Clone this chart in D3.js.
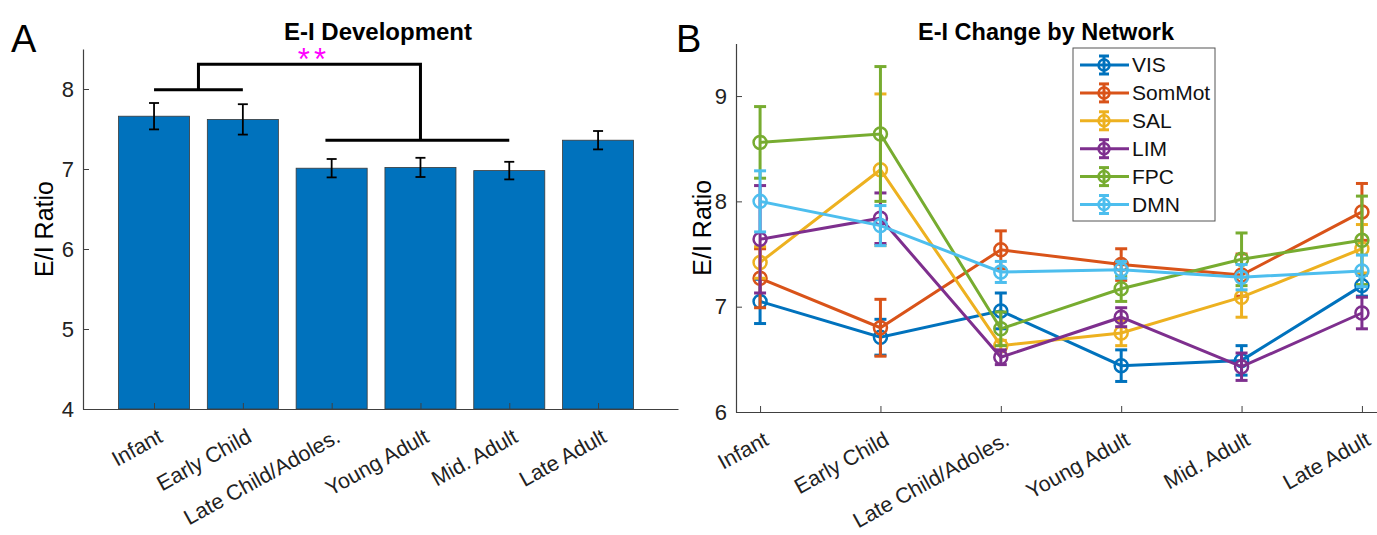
<!DOCTYPE html>
<html>
<head>
<meta charset="utf-8">
<script src="https://cdn.jsdelivr.net/npm/d3@7"></script>
<style>
  body { margin: 0; background: #fff; }
  text { font-family: 'Liberation Sans', Arial, sans-serif; }
</style>
</head>
<body>
<div id="chart"></div>
<script>
const ageGroups = ['Infant', 'Early Child', 'Late Child/Adoles.', 'Young Adult', 'Mid. Adult', 'Late Adult']

// panel A: overall E/I ratio
const overallMean = [7.66, 7.62, 7.01, 7.02, 6.98, 7.36]
const overallErr = [0.165, 0.19, 0.115, 0.12, 0.11, 0.115]
const yTicksA = [4, 5, 6, 7, 8]

// significance bracket: [x1, x2, y]
const bracketLeft = [1, 2, 7.99]
const bracketRight = [2.93, 5, 7.36]
const bracketTop = [1.5, 4, 8.31]
const sigLabel = '**'

// panel B: per network
const networks = ['VIS', 'SomMot', 'SAL', 'LIM', 'FPC', 'DMN']
const networkColors = ['#0072BD', '#D95319', '#EDB120', '#7E2F8E', '#77AC30', '#4DBEEE']
const visMean = [7.05, 6.71, 6.96, 6.44, 6.49, 7.20]
const visErr = [0.21, 0.17, 0.17, 0.15, 0.14, 0.10]
const somMotMean = [7.27, 6.80, 7.54, 7.40, 7.30, 7.90]
const somMotErr = [0.28, 0.27, 0.18, 0.15, 0.20, 0.27]
const salMean = [7.42, 8.30, 6.63, 6.75, 7.09, 7.55]
const salErr = [0.15, 0.72, 0.05, 0.12, 0.19, 0.23]
const limMean = [7.64, 7.84, 6.52, 6.90, 6.43, 6.94]
const limErr = [0.51, 0.24, 0.07, 0.09, 0.13, 0.15]
const fpcMean = [8.56, 8.64, 6.79, 7.17, 7.45, 7.63]
const fpcErr = [0.34, 0.64, 0.16, 0.12, 0.25, 0.42]
const dmnMean = [8.00, 7.77, 7.33, 7.35, 7.28, 7.34]
const dmnErr = [0.29, 0.19, 0.10, 0.08, 0.12, 0.15]
const yTicksB = [6, 7, 8, 9]

const seriesB = [
  [visMean, visErr], [somMotMean, somMotErr], [salMean, salErr],
  [limMean, limErr], [fpcMean, fpcErr], [dmnMean, dmnErr]
].map((s, i) => ({
  name: networks[i],
  color: networkColors[i],
  pts: s[0].map((v, j) => ({ x: j + 1, v: v, e: s[1][j] }))
}))

const W = 1377
const H = 535
const axisColor = '#404040'

const svg = d3.select('#chart').append('svg')
  .attr('width', W)
  .attr('height', H)
  .style('background-color', '#fff')

function drawAxes(g, xScale, yScale, yTicks) {
  const yAxis = d3.axisLeft(yScale).tickValues(yTicks).tickSize(-6).tickSizeOuter(0)
    .tickPadding(9).tickFormat(d3.format('d'))
  const yg = g.append('g')
    .attr('transform', `translate(${xScale.range()[0]}, 0)`)
    .call(yAxis)
  const xAxis = d3.axisBottom(xScale).tickValues(d3.range(1, 7)).tickSize(-6).tickSizeOuter(0).tickFormat('')
  const xg = g.append('g')
    .attr('transform', `translate(0, ${yScale.range()[0]})`)
    .call(xAxis)
  for (const a of [yg, xg]) {
    a.select('.domain').attr('stroke', axisColor).attr('stroke-width', 1.2)
    a.selectAll('.tick line').attr('stroke', axisColor)
    a.selectAll('.tick text').attr('fill', '#222').style('font-size', '22px')
  }
  // rotated category labels
  g.append('g').selectAll('text')
    .data(ageGroups)
    .enter()
    .append('text')
    .text(d => d)
    .attr('text-anchor', 'end')
    .attr('transform', (d, i) => `translate(${xScale(i + 1) + 10}, ${yScale.range()[0] + 32}) rotate(-29)`)
    .style('font-size', '21.5px')
    .style('fill', '#222')
}

/* ---------- Panel A ---------- */
const xA = d3.scaleLinear().domain([0.2, 6.9]).range([83, 678])
const yA = d3.scaleLinear().domain([4, 8.5]).range([409, 49])
const gA = svg.append('g')

const barW = xA(1.8) - xA(1)
gA.append('g').selectAll('rect')
  .data(overallMean)
  .enter()
  .append('rect')
  .attr('x', (d, i) => xA(i + 1) - barW / 2)
  .attr('y', d => yA(d))
  .attr('width', barW)
  .attr('height', d => yA(4) - yA(d))
  .style('fill', '#0072BD')
  .style('stroke', '#3a3a3a')
  .style('stroke-width', 0.8)

drawAxes(gA, xA, yA, yTicksA)

const errA = gA.append('g').selectAll('g')
  .data(overallMean)
  .enter()
  .append('g')
  .attr('stroke', '#000')
  .attr('stroke-width', 1.8)
errA.append('line')
  .attr('x1', (d, i) => xA(i + 1)).attr('x2', (d, i) => xA(i + 1))
  .attr('y1', (d, i) => yA(d - overallErr[i])).attr('y2', (d, i) => yA(d + overallErr[i]))
errA.append('line')
  .attr('x1', (d, i) => xA(i + 1) - 5).attr('x2', (d, i) => xA(i + 1) + 5)
  .attr('y1', (d, i) => yA(d + overallErr[i])).attr('y2', (d, i) => yA(d + overallErr[i]))
errA.append('line')
  .attr('x1', (d, i) => xA(i + 1) - 5).attr('x2', (d, i) => xA(i + 1) + 5)
  .attr('y1', (d, i) => yA(d - overallErr[i])).attr('y2', (d, i) => yA(d - overallErr[i]))

// significance brackets
const midL = (bracketLeft[0] + bracketLeft[1]) / 2
const brPath = d3.path()
brPath.moveTo(xA(bracketLeft[0]), yA(bracketLeft[2]))
brPath.lineTo(xA(bracketLeft[1]), yA(bracketLeft[2]))
brPath.moveTo(xA(bracketRight[0]), yA(bracketRight[2]))
brPath.lineTo(xA(bracketRight[1]), yA(bracketRight[2]))
brPath.moveTo(xA(midL), yA(bracketLeft[2]))
brPath.lineTo(xA(midL), yA(bracketTop[2]))
brPath.lineTo(xA(bracketTop[1]), yA(bracketTop[2]))
brPath.lineTo(xA(bracketTop[1]), yA(bracketRight[2]))
gA.append('path')
  .attr('d', brPath.toString())
  .attr('fill', 'none')
  .attr('stroke', '#000')
  .attr('stroke-width', 3)

gA.append('text')
  .text(sigLabel)
  .attr('x', xA(2.8))
  .attr('y', yA(8.31) + 6)
  .attr('text-anchor', 'middle')
  .style('font-size', '31px')
  .style('fill', '#FF00FF')
  .style('letter-spacing', '4px')

gA.append('text')
  .text('E-I Development')
  .attr('x', 378)
  .attr('y', 40)
  .attr('text-anchor', 'middle')
  .style('font-size', '24px')
  .style('font-weight', 'bold')

gA.append('text')
  .text('E/I Ratio')
  .attr('transform', `translate(53, ${(yA(4) + yA(8.5)) / 2}) rotate(-90)`)
  .attr('text-anchor', 'middle')
  .style('font-size', '25px')

gA.append('text')
  .text('A')
  .attr('x', 11)
  .attr('y', 52)
  .style('font-size', '38px')

/* ---------- Panel B ---------- */
const xB = d3.scaleLinear().domain([0.8, 6.2]).range([736, 1386])
const yB = d3.scaleLinear().domain([6, 9.5]).range([412, 43.4])
const gB = svg.append('g')

drawAxes(gB, xB, yB, yTicksB)

const line = d3.line().x(d => xB(d.x)).y(d => yB(d.v))

const sg = gB.append('g').selectAll('g.series')
  .data(seriesB)
  .enter()
  .append('g')
  .classed('series', true)
  .attr('stroke', d => d.color)
  .attr('fill', 'none')

sg.append('path')
  .attr('d', d => line(d.pts))
  .attr('stroke-width', 3)

const pg = sg.selectAll('g.pt')
  .data(d => d.pts)
  .enter()
  .append('g')
  .classed('pt', true)
  .attr('stroke-width', 3)
pg.append('line')
  .attr('x1', d => xB(d.x)).attr('x2', d => xB(d.x))
  .attr('y1', d => yB(d.v - d.e)).attr('y2', d => yB(d.v + d.e))
pg.append('line')
  .attr('x1', d => xB(d.x) - 6).attr('x2', d => xB(d.x) + 6)
  .attr('y1', d => yB(d.v + d.e)).attr('y2', d => yB(d.v + d.e))
pg.append('line')
  .attr('x1', d => xB(d.x) - 6).attr('x2', d => xB(d.x) + 6)
  .attr('y1', d => yB(d.v - d.e)).attr('y2', d => yB(d.v - d.e))
pg.append('circle')
  .attr('cx', d => xB(d.x))
  .attr('cy', d => yB(d.v))
  .attr('r', 6.5)
  .attr('stroke-width', 2.5)

// legend
const lg = gB.append('g').attr('transform', 'translate(1073, 48)')
lg.append('rect')
  .attr('width', 142)
  .attr('height', 173)
  .attr('fill', '#fff')
  .attr('stroke', '#555')
  .attr('stroke-width', 1)
const li = lg.selectAll('g.item')
  .data(seriesB)
  .enter()
  .append('g')
  .classed('item', true)
  .attr('transform', (d, i) => `translate(0, ${17 + i * 27.9})`)
li.append('line').attr('x1', 7).attr('x2', 56).attr('y1', 0).attr('y2', 0)
  .attr('stroke', d => d.color).attr('stroke-width', 3)
li.append('line').attr('x1', 31).attr('x2', 31).attr('y1', -9).attr('y2', 9)
  .attr('stroke', d => d.color).attr('stroke-width', 3)
li.append('line').attr('x1', 26).attr('x2', 36).attr('y1', -9).attr('y2', -9)
  .attr('stroke', d => d.color).attr('stroke-width', 3)
li.append('line').attr('x1', 26).attr('x2', 36).attr('y1', 9).attr('y2', 9)
  .attr('stroke', d => d.color).attr('stroke-width', 3)
li.append('circle').attr('cx', 31).attr('cy', 0).attr('r', 5.5)
  .attr('fill', 'none').attr('stroke', d => d.color).attr('stroke-width', 2.5)
li.append('text')
  .text(d => d.name)
  .attr('x', 59)
  .attr('dy', '0.35em')
  .style('font-size', '21px')
  .style('fill', '#111')

gB.append('text')
  .text('E-I Change by Network')
  .attr('x', 1046)
  .attr('y', 40)
  .attr('text-anchor', 'middle')
  .style('font-size', '23.5px')
  .style('font-weight', 'bold')

gB.append('text')
  .text('E/I Ratio')
  .attr('transform', `translate(711, ${(yB(6) + yB(9.5)) / 2}) rotate(-90)`)
  .attr('text-anchor', 'middle')
  .style('font-size', '25px')

gB.append('text')
  .text('B')
  .attr('x', 676)
  .attr('y', 52)
  .style('font-size', '38px')
</script>
</body>
</html>
